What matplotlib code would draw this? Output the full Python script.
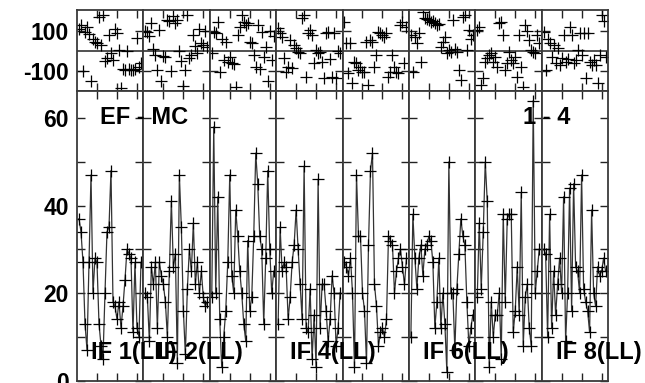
import matplotlib
matplotlib.use("Agg")
import matplotlib.pyplot as plt
from matplotlib.ticker import MultipleLocator, FixedLocator

plt.rcParams['font.family'] = ['Liberation Sans', 'DejaVu Sans']
plt.rcParams['axes.unicode_minus'] = False

channels = list(range(1, 33))

amp_if1 = [37, 34, 27, 13, 7, 27, 47, 20, 28, 27, 13, 8, 5, 20, 34, 35, 48, 18, 17, 14, 18, 12, 17, 23, 30, 29, 28, 11, 27, 12, 10, 27]
amp_if2 = [20, 19, 9, 26, 22, 27, 12, 27, 24, 22, 18, 10, 25, 41, 26, 29, 4, 47, 35, 16, 6, 21, 30, 25, 36, 22, 27, 20, 25, 19, 17, 18]
amp_if3 = [19, 58, 20, 42, 14, 3, 10, 16, 27, 47, 24, 20, 39, 33, 25, 20, 13, 9, 32, 16, 19, 33, 52, 45, 33, 30, 13, 28, 48, 30, 20, 25]
amp_if4 = [13, 35, 25, 27, 26, 14, 19, 27, 31, 39, 30, 22, 14, 49, 12, 11, 21, 5, 15, 3, 46, 12, 22, 22, 16, 9, 14, 24, 20, 8, 12, 20]
amp_if5 = [27, 26, 24, 28, 20, 3, 47, 33, 33, 20, 16, 4, 31, 48, 52, 22, 17, 8, 11, 12, 10, 14, 33, 32, 31, 20, 25, 28, 30, 26, 22, 28]
amp_if6 = [10, 38, 28, 21, 28, 31, 24, 30, 31, 33, 32, 27, 12, 18, 28, 12, 20, 13, 2, 50, 20, 20, 7, 21, 29, 37, 33, 31, 18, 8, 12, 15]
amp_if7 = [19, 36, 21, 34, 50, 41, 3, 18, 10, 15, 15, 20, 5, 38, 18, 37, 38, 38, 11, 16, 26, 15, 43, 8, 19, 22, 12, 8, 64, 20, 25, 30]
amp_if8 = [30, 29, 10, 38, 12, 25, 15, 22, 28, 20, 42, 9, 20, 44, 16, 45, 26, 25, 20, 47, 21, 18, 16, 11, 39, 20, 17, 26, 24, 25, 28, 25]

ph_if1 = [110, 130, -100, 95, 120, 85, -150, 60, 45, 40, 170, 30, 180, -50, -35, 80, -10, -45, 110, 90, 5, -185, -90, -95, 0, -90, -92, -95, -88, 65, -80, -60]
ph_if2 = [100, 95, 75, 140, 10, -20, -95, 105, -150, -25, -30, 155, 150, -100, 175, 140, 155, 0, -50, -175, -95, 180, -35, -20, 80, 25, -10, 110, 40, 30, 100, 20]
ph_if3 = [-10, 98, 90, 148, -102, 60, -44, 48, -52, -27, -60, -65, -177, 81, 123, 181, 148, 131, 139, 48, 39, -19, -77, 131, -90, 95, -27, 20, -150, 100, -45, 75]
ph_if4 = [114, 89, 73, -36, -102, -77, 56, -86, 31, 14, -2, -11, 164, 181, -127, 90, 106, 81, -61, 6, -11, -2, -52, -136, 89, 98, -40, -130, 89, -135, 0, -10]
ph_if5 = [148, 39, -111, 39, -161, -52, -61, -94, -77, -102, -102, 48, -169, 56, 48, -77, -20, 98, 89, 81, 73, 89, -127, -102, -20, -77, -102, -111, 131, 148, -60, 120]
ph_if6 = [80, -102, 73, 39, 89, -52, 198, 164, 160, 156, 148, 150, 139, 131, 135, 23, 48, 73, -11, 6, -2, 156, 10, -2, -94, -144, 173, 181, 5, 106, 60, 80]
ph_if7 = [106, 123, -169, -136, -52, -36, -19, -11, -52, -27, -77, 139, 148, 81, -94, -60, -2, -44, -61, -30, -127, 81, -77, -177, 131, 100, 56, 6, -2, -10, 80, 40]
ph_if8 = [98, -94, 60, 39, -27, 31, -61, 14, -69, -36, 81, -52, -40, 123, 81, -60, -44, 6, 89, -19, 89, -136, 89, -52, -69, -44, -69, -161, -19, 181, 150, -30]

amps = [amp_if1, amp_if2, amp_if3, amp_if4, amp_if5, amp_if6, amp_if7, amp_if8]
phases = [ph_if1, ph_if2, ph_if3, ph_if4, ph_if5, ph_if6, ph_if7, ph_if8]
if_labels = {0: "IF 1(LL)", 1: "IF 2(LL)", 3: "IF 4(LL)", 5: "IF 6(LL)", 7: "IF 8(LL)"}

W, H = 645, 383
fig = plt.figure(figsize=(W / 100, H / 100), dpi=100)

def rect(x0, y0, x1, y1):
    return [x0 / W, 1 - y1 / H, (x1 - x0) / W, (y1 - y0) / H]

x_left, x_right = 77, 608
pw = (x_right - x_left) / 8
spine_c = '#3a3a3a'
FS = 16.5

for i in range(8):
    x0 = x_left + i * pw
    x1 = x0 + pw
    axp = fig.add_axes(rect(x0, 10, x1, 91))
    axa = fig.add_axes(rect(x0, 91, x1, 380.5))
    for ax in (axp, axa):
        ax.set_xlim(0, 33.2)
        ax.xaxis.set_major_locator(FixedLocator([10, 20, 30]))
        ax.tick_params(direction='in', length=6, width=1.0, color='#222222',
                       top=True, right=True, bottom=True, left=True,
                       labelbottom=False, labelsize=FS)
        for s in ax.spines.values():
            s.set_color(spine_c)
            s.set_linewidth(1.3)
    # phase
    axp.set_ylim(-199, 206)
    axp.yaxis.set_major_locator(FixedLocator([-100, 100]))
    axp.axhline(0, color='#222222', lw=1.1)
    axp.plot(channels, phases[i], ls='none', marker='+', ms=8, mew=0.9, color='black')
    # amplitude
    axa.set_ylim(0, 66.2)
    axa.yaxis.set_major_locator(MultipleLocator(20))
    axa.yaxis.set_minor_locator(MultipleLocator(10))
    axa.tick_params(which='minor', direction='in', length=6, width=1.0, color='#222222',
                    left=True, right=True)
    axa.plot(channels, amps[i], color='#333333', lw=0.9, marker='+', ms=8, mew=0.9,
             mec='black')
    if i == 0:
        for ax in (axp, axa):
            ax.tick_params(labelleft=True, pad=6)
            for lab in ax.get_yticklabels():
                lab.set_fontweight('bold')
                lab.set_fontsize(FS)
    else:
        axp.tick_params(labelleft=False)
        axa.tick_params(labelleft=False)
    if i in if_labels:
        fig.text((x0 + 14) / W, 1 - 352 / H, if_labels[i], fontsize=17,
                 fontweight='bold', ha='left', va='center')

fig.text(100 / W, 1 - 117 / H, "EF - MC", fontsize=17, fontweight='bold', ha='left', va='center')
fig.text(523 / W, 1 - 117 / H, "1 - 4", fontsize=17, fontweight='bold', ha='left', va='center')

fig.savefig("out.png", dpi=100)
